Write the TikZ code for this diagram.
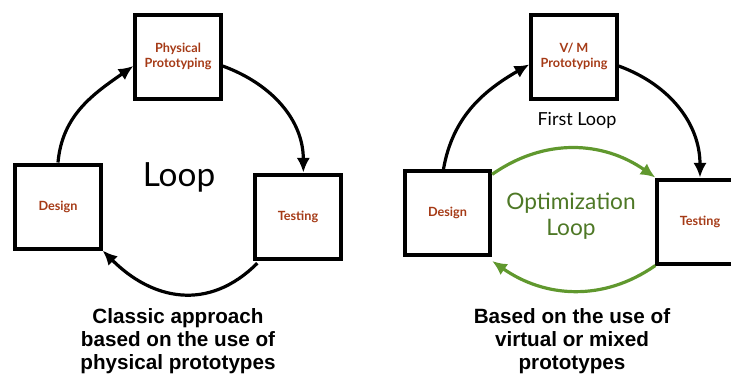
\documentclass[tikz,border=0pt]{standalone}
\usepackage{fontspec}
\setmainfont{Liberation Sans}
\newfontfamily\gill{Lato}
\usetikzlibrary{arrows.meta}
\definecolor{rust}{RGB}{165,58,22}
\definecolor{optgreen}{RGB}{96,152,46}
\definecolor{optgreentext}{RGB}{78,120,38}

\begin{document}
\begin{tikzpicture}[x=0.75pt,y=-0.75pt,
	box/.style={draw, line width=3pt, minimum width=64pt, minimum height=63pt, inner sep=0pt, align=center, font=\gill\bfseries\fontsize{9.5}{11}\selectfont, text=rust},
	flow/.style={line width=2.4pt, -{Latex[length=11pt,width=10pt]}},
	caption/.style={align=center, font=\bfseries\fontsize{15.5}{17.5}\selectfont}]
	\useasboundingbox (0,0) rectangle (731,376);
	% classic approach
	\node[box] (phys) at (178,56.5) {Physical\\Prototyping};
	\node[box] (design) at (58,206.5) {Design};
	\node[box] (test) at (298,216.5) {Testing};
	\node[font=\gill\fontsize{25}{28}\selectfont] (loop) at (179,177) {Loop};
	\draw[flow] (design.north) to[out=85,in=215] (phys.192);
	\draw[flow] (phys.-12) to[out=-20,in=90] ([xshift=4pt]test.north);
	\draw[flow] ([xshift=3pt,yshift=-2pt]test.south west) to[out=-135,in=-45,looseness=1.15] (design.south east);
	\node[caption] (capA) at (178,341) {Classic approach\\based on the use of\\physical prototypes};
	% virtual / mixed
	\node[box] (vm) at (574,56.5) {V/ M\\Prototyping};
	\node[box] (design2) at (447.5,213) {Design};
	\node[box] (test2) at (700,221.5) {Testing};
	\node[font=\gill\fontsize{13.5}{15}\selectfont] (first) at (577,120) {First Loop};
	\node[font=\gill\fontsize{17}{20}\selectfont, text=optgreentext, align=center] (opt) at (571,216) {Optimization\\Loop};
	\draw[flow] ([xshift=-3pt]design2.north) to[out=80,in=210] (vm.190);
	\draw[flow] (vm.-12) to[out=-20,in=90] (test2.north);
	\draw[flow, optgreen] ([yshift=-4pt]design2.north east) to[out=35,in=145] (test2.north west);
	\draw[flow, optgreen] (test2.south west) to[out=-145,in=-35] ([yshift=-3pt]design2.south east);
	\node[caption] (capB) at (572,341) {Based on the use of\\virtual or mixed\\prototypes};
\end{tikzpicture}
\end{document}
